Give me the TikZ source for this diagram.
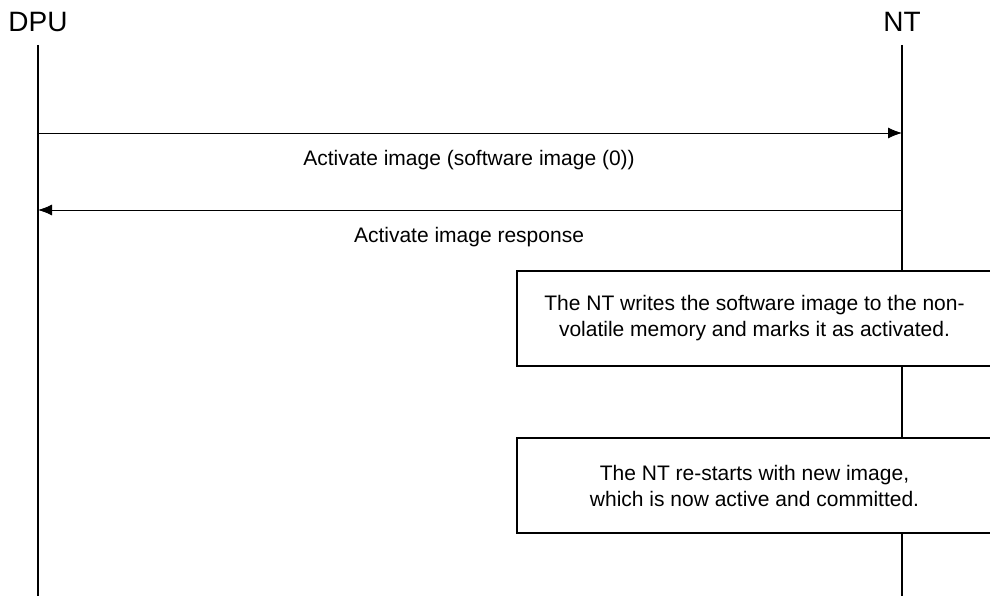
\documentclass[tikz,border=0pt]{standalone}
\usepackage{fontspec}
\setmainfont{Liberation Sans}
\usetikzlibrary{arrows.meta,positioning}

\begin{document}
\begin{tikzpicture}[x=1pt,y=-1pt,
    actor/.style={font=\fontsize{28}{30}\selectfont, inner sep=0pt},
    lifeline/.style={line width=1.4pt},
    msg/.style={line width=0.9pt, -{Latex[length=14pt,width=11pt]}},
    msglabel/.style={font=\fontsize{21}{24}\selectfont, inner sep=0pt},
    notebox/.style={draw, line width=1.2pt, fill=white, minimum width=475pt, minimum height=95pt,
        align=center, font=\fontsize{21}{26}\selectfont}]
      \useasboundingbox (0,0) rectangle (990,596);

      % actors and lifelines
      \node[actor] (dpu) at (38,22) {DPU};
      \node[actor] (nt) at (902,22) {NT};
      \coordinate (dpuTop) at (38,45);
      \coordinate (dpuEnd) at (38,600);
      \coordinate (ntTop) at (902,45);
      \coordinate (ntEnd) at (902,600);
      \draw[lifeline] (dpuTop) -- (dpuEnd);
      \draw[lifeline] (ntTop) -- (ntEnd);

      % Activate image
      \coordinate (actDpu) at (38,133);
      \coordinate (actNt) at (902,133);
      \draw[msg] (actDpu) -- (actNt);
      \node[msglabel] (actLabel) at (469,160) {Activate image (software image (0))};

      % Activate image response
      \coordinate (rspNt) at (902,210);
      \coordinate (rspDpu) at (38,210);
      \draw[msg] (rspNt) -- (rspDpu);
      \node[msglabel] (rspLabel) at (469,237) {Activate image response};

      % NT actions
      \node[notebox] (writeBox) at (754.5,318.5) {The NT writes the software image to the non-\\volatile memory and marks it as activated.};
      \node[notebox] (restartBox) at (754.5,485.5) {The NT re-starts with new image,\\which is now active and committed.};
    \end{tikzpicture}
\end{document}
